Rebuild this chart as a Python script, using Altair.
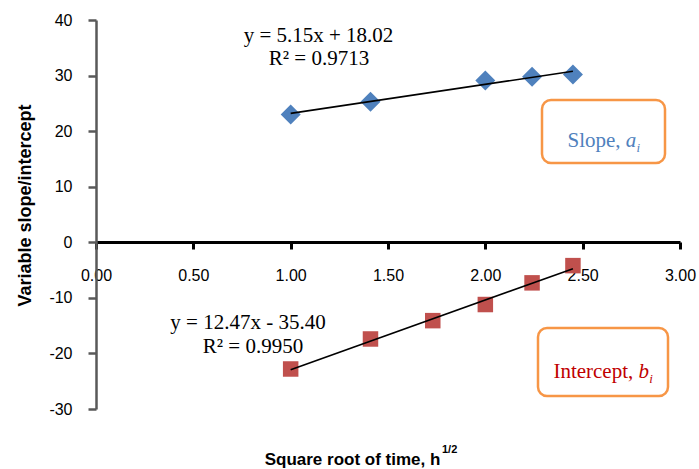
import altair as alt
import pandas as pd

# ---- data ----
slope_x = [1.00, 1.41, 2.00, 2.24, 2.45]
slope_y = [23.0, 25.3, 29.1, 29.8, 30.2]
intercept_x = [1.00, 1.41, 1.73, 2.00, 2.24, 2.45]
intercept_y = [-22.8, -17.4, -14.1, -11.2, -7.3, -4.2]
series_names = ["Slope", "Intercept"]
x_ticks = [0.0, 0.5, 1.0, 1.5, 2.0, 2.5, 3.0]
y_ticks = [-30, -20, -10, 0, 10, 20, 30, 40]
eq_text = ["y = 5.15x + 18.02", "y = 12.47x - 35.40"]
r2_text = ["R² = 0.9713", "R² = 0.9950"]
box_text = ["Slope, ", "Intercept, "]
box_sym = ["a", "b"]
x_title = "Square root of time, h"
x_title_sup = "1/2"
y_title = "Variable slope/intercept"

df = pd.DataFrame({
    "x": slope_x + intercept_x,
    "y": slope_y + intercept_y,
    "series": [series_names[0]] * len(slope_x) + [series_names[1]] * len(intercept_x),
})

SERIF = "Liberation Serif"
SANS = "Liberation Sans"

xscale = alt.Scale(domain=[0, 3], nice=False, zero=False)
yscale = alt.Scale(domain=[-30, 40], nice=False, zero=False)

x_axis = alt.Axis(
    values=x_ticks, format=".2f", title=None, grid=False,
    offset=-167, domainColor="black", domainWidth=3,
    tickColor="black", tickWidth=3, tickSize=7,
    labelFont=SANS, labelFontSize=16, labelColor="black", labelPadding=18,
    labelFlush=False,
)
y_axis = alt.Axis(
    values=y_ticks, format="d", title=y_title, grid=False,
    labelExpr="replace(datum.label, '\u2212', '-')",
    domainColor="#595959", domainWidth=2.5,
    tickColor="#595959", tickWidth=2.5, tickSize=8,
    labelFont=SANS, labelFontSize=16, labelColor="black", labelPadding=16,
    titleFont=SANS, titleFontSize=18, titleFontWeight="bold", titleColor="black",
    titleAngle=270, titleX=-71, titleY=185, titleAlign="center", titleBaseline="middle",
)

base = alt.Chart(df)

slope_pts = base.transform_filter(alt.datum.series == series_names[0]).mark_point(
    shape="diamond", filled=True, opacity=1, color="#4F81BD", size=400, strokeWidth=0
).encode(
    x=alt.X("x:Q", scale=xscale, axis=x_axis),
    y=alt.Y("y:Q", scale=yscale, axis=y_axis),
)
int_pts = base.transform_filter(alt.datum.series == series_names[1]).mark_point(
    shape="square", filled=True, opacity=1, color="#C0504D", size=240, strokeWidth=0
).encode(x="x:Q", y="y:Q")

trend = base.transform_regression("x", "y", groupby=["series"]).mark_line(
    color="black", strokeWidth=1.6
).encode(x="x:Q", y="y:Q", detail="series:N")


def label(text, px, py, **kw):
    return alt.Chart(pd.DataFrame({"t": [text]})).mark_text(**kw).encode(
        text="t:N", x=alt.value(px), y=alt.value(py)
    )


def box(x1, x2, y1, y2):
    return alt.Chart(pd.DataFrame({"b": [0]})).mark_rect(
        fill="white", stroke="#F79646", strokeWidth=2.5, cornerRadius=9
    ).encode(x=alt.value(x1), x2=alt.value(x2), y=alt.value(y1), y2=alt.value(y2))


eq_style = dict(font=SERIF, fontSize=21, color="black", align="center", baseline="middle")
BLUE_T = "#4F81BD"
RED_T = "#C00000"
texts = [
    label(eq_text[0], 222.5, 16, **eq_style),
    label(r2_text[0], 223, 39, **eq_style),
    label(eq_text[1], 152, 303, **eq_style),
    label(r2_text[1], 157, 327, **eq_style),
    # slope box text
    label(box_text[0], 471.5, 127, font=SERIF, fontSize=21, color=BLUE_T, align="left", baseline="alphabetic"),
    label(box_sym[0], 529.8, 127, font=SERIF, fontSize=21, fontStyle="italic", color=BLUE_T, align="left", baseline="alphabetic"),
    label("i", 540.5, 132, font=SERIF, fontSize=13, fontStyle="italic", color=BLUE_T, align="left", baseline="alphabetic"),
    # intercept box text
    label(box_text[1], 457.4, 358, font=SERIF, fontSize=21, color=RED_T, align="left", baseline="alphabetic"),
    label(box_sym[1], 542.5, 358, font=SERIF, fontSize=21, fontStyle="italic", color=RED_T, align="left", baseline="alphabetic"),
    label("i", 553.3, 363, font=SERIF, fontSize=13, fontStyle="italic", color=RED_T, align="left", baseline="alphabetic"),
    # x-axis title with superscript
    label(x_title, 256.5, 445, font=SANS, fontSize=17, fontWeight="bold", color="black", align="center", baseline="alphabetic"),
    label(x_title_sup, 346, 433, font=SANS, fontSize=11, fontWeight="bold", color="black", align="left", baseline="alphabetic"),
]

chart = alt.layer(
    box(446, 569, 80, 143),
    box(442, 572, 308, 376),
    slope_pts, int_pts, trend, *texts,
).properties(
    width=584, height=389,
    autosize=alt.AutoSizeParams(type="none"),
    padding={"left": 96, "top": 20, "right": 19, "bottom": 60},
    background="white",
).configure_view(stroke=None)

chart.save("out.html", embed_options={"renderer": "svg", "actions": False})
